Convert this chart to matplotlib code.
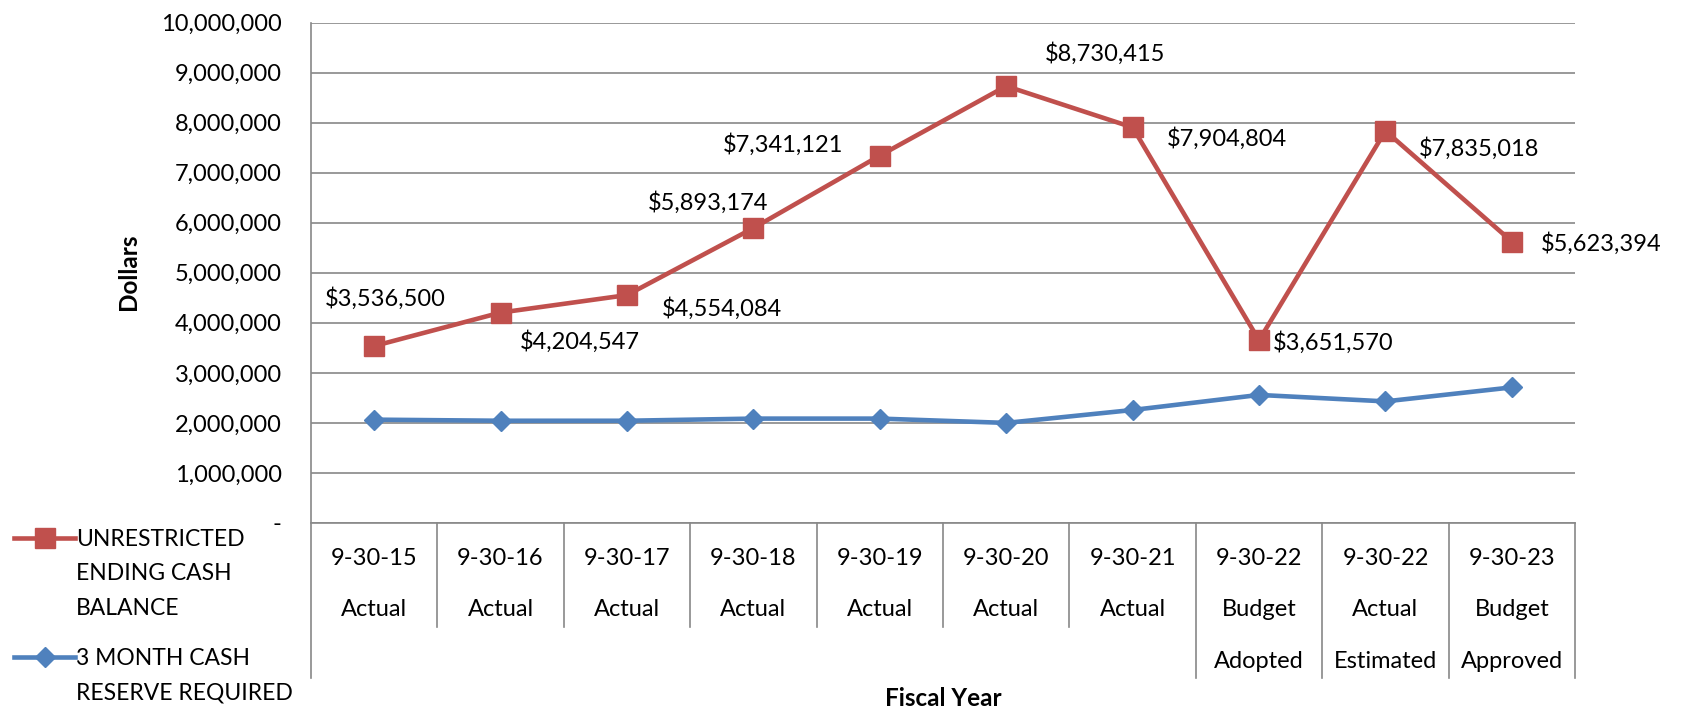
import matplotlib.pyplot as plt
from matplotlib.lines import Line2D
from matplotlib.ticker import FuncFormatter

plt.rcParams['font.family'] = ['Lato', 'DejaVu Sans']

years = ['9-30-15', '9-30-16', '9-30-17', '9-30-18', '9-30-19',
         '9-30-20', '9-30-21', '9-30-22', '9-30-22', '9-30-23']
status = ['Actual', 'Actual', 'Actual', 'Actual', 'Actual',
          'Actual', 'Actual', 'Budget', 'Actual', 'Budget']
status2 = ['', '', '', '', '', '', '', 'Adopted', 'Estimated', 'Approved']

cash_balance = [3536500, 4204547, 4554084, 5893174, 7341121,
                8730415, 7904804, 3651570, 7835018, 5623394]
cash_reserve = [2065000, 2043000, 2043000, 2086000, 2086000,
                2000000, 2258000, 2559000, 2430000, 2710000]

# label offsets in pixels (dx, dy) from each red point
label_offsets = [(11, 48), (79, -29), (95, -13), (-45, 26), (-97, 11),
                 (99, 33), (94, -11), (74, -2), (94, -18), (89, -2)]

red = '#C0504D'
blue = '#4F81BD'
grid = '#888888'

fig = plt.figure(figsize=(16.88, 7.10), dpi=100)
ax = fig.add_axes([0.1842, 0.2634, 0.7489, 0.7048])

x = list(range(len(years)))
ax.plot(x, cash_balance, color=red, lw=3.3, marker='s', markersize=14)
ax.plot(x, cash_reserve, color=blue, lw=3.3, marker='D', markersize=10)

for i, v in enumerate(cash_balance):
    dx, dy = label_offsets[i]
    ax.annotate(f'${v:,.0f}', (i, v), xytext=(dx, dy), textcoords='offset pixels',
                ha='center', va='center', fontsize=17)

ax.set_xlim(-0.5, len(years) - 0.5)
ax.set_ylim(0, 10000000)
ax.set_yticks(range(0, 10000001, 1000000))
ax.yaxis.set_major_formatter(FuncFormatter(lambda v, p: '-' if v == 0 else f'{v:,.0f}'))
ax.tick_params(axis='y', length=0, pad=21, labelsize=17)
ax.set_xticks([])
ax.grid(axis='y', color=grid, lw=1.2)
ax.set_axisbelow(True)
for s in ['top', 'right']:
    ax.spines[s].set_visible(False)
ax.spines['bottom'].set_color(grid)
ax.spines['bottom'].set_linewidth(1.2)
ax.spines['left'].set_visible(False)

# category table below the axis
tr = ax.get_xaxis_transform()
ax.plot([-0.5, -0.5], [1, -0.31], color=grid, lw=1.2, transform=tr, clip_on=False)
for b in range(1, len(years) + 1):
    bottom = -0.31 if b >= 7 else -0.208
    ax.plot([b - 0.5, b - 0.5], [0, bottom], color=grid, lw=1.2, transform=tr, clip_on=False)
for i in x:
    ax.text(i, -0.070, years[i], transform=tr, ha='center', va='center', fontsize=17)
    ax.text(i, -0.172, status[i], transform=tr, ha='center', va='center', fontsize=17)
    if status2[i]:
        ax.text(i, -0.276, status2[i], transform=tr, ha='center', va='center', fontsize=17)

fig.text(943 / 1688, 1 - 699 / 710, 'Fiscal Year', ha='center', va='center',
         fontsize=17.5, fontweight='bold')
fig.text(129 / 1688, 1 - 272 / 710, 'Dollars', ha='center', va='center',
         rotation=90, fontsize=17.5, fontweight='bold')

# legend on the left
for y, color, mk, ms, label in [(538, red, 's', 14, 'UNRESTRICTED\nENDING CASH\nBALANCE'),
                                (657, blue, 'D', 10, '3 MONTH CASH\nRESERVE REQUIRED')]:
    fy = 1 - y / 710
    fig.add_artist(Line2D([14 / 1688, 75 / 1688], [fy, fy], color=color, lw=3.3,
                          transform=fig.transFigure))
    fig.add_artist(Line2D([45 / 1688], [fy], color=color, marker=mk, markersize=ms,
                          transform=fig.transFigure))
    fig.text(76 / 1688, 1 - (y - 9) / 710, label, ha='left', va='top',
             fontsize=16.5, linespacing=1.78)

fig.savefig('out.png', dpi=100)
